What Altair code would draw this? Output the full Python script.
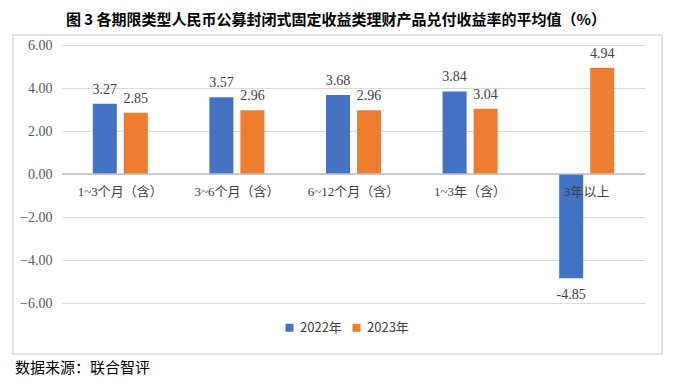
import altair as alt
import pandas as pd

categories = ["1~3个月（含）", "3~6个月（含）", "6~12个月（含）", "1~3年（含）", "3年以上"]
series = ["2022年", "2023年"]
values_2022 = [3.27, 3.57, 3.68, 3.84, -4.85]
values_2023 = [2.85, 2.96, 2.96, 3.04, 4.94]
y_ticks = [-6, -4, -2, 0, 2, 4, 6]
colors = ["#4472C4", "#ED7D31"]
title_text = "图 3 各期限类型人民币公募封闭式固定收益类理财产品兑付收益率的平均值（%）"
source_text = "数据来源：联合智评"

rows = []
for c, a, b in zip(categories, values_2022, values_2023):
    rows.append({"cat": c, "year": series[0], "v": a, "label": f"{a:.2f}"})
    rows.append({"cat": c, "year": series[1], "v": b, "label": f"{b:.2f}"})
df = pd.DataFrame(rows)
cat_df = pd.DataFrame({"cat": categories, "zero": [0] * len(categories)})
one = pd.DataFrame({"a": [0]})

W, H = 583, 258
serif = "Times New Roman, Liberation Serif, Noto Sans CJK SC"
cjk = "Noto Sans CJK SC"

x = alt.X("cat:N", sort=categories, axis=None,
          scale=alt.Scale(paddingInner=0.528, paddingOuter=0.264))
xo = alt.XOffset("year:N", sort=series,
                 scale=alt.Scale(paddingInner=0.226, paddingOuter=0))
y = alt.Y("v:Q", scale=alt.Scale(domain=[-6, 6], nice=False),
          axis=alt.Axis(values=y_ticks, format=".2f", grid=True, gridColor="#d9d9d9",
                        domain=False, ticks=False, labelFont=serif, labelFontSize=14,
                        labelColor="#595959", labelPadding=10, title=None))

box = alt.Chart(one).mark_rect(fillOpacity=0, stroke="#d9d9d9", strokeWidth=1.5).encode(
    x=alt.value(-49), x2=alt.value(600), y=alt.value(-10), y2=alt.value(309))

base = alt.Chart(df).encode(x=x, xOffset=xo)

bars = base.mark_bar().encode(
    y=y,
    color=alt.Color("year:N", sort=series, scale=alt.Scale(domain=series, range=colors),
                    legend=alt.Legend(orient="none", legendX=221, legendY=276,
                                      direction="horizontal", title=None,
                                      symbolType="square", symbolSize=64,
                                      symbolStrokeWidth=0, labelFont=cjk,
                                      labelFontSize=13, labelColor="#404040",
                                      padding=0, columnPadding=8)))

zero = alt.Chart(one).mark_rule(color="#bfbfbf", strokeWidth=1.5).encode(y=alt.datum(0))

pos_labels = base.transform_filter("datum.v >= 0").mark_text(
    baseline="bottom", dy=-7, font=serif, fontSize=14, color="#404040").encode(
    y=alt.Y("v:Q"), text="label:N")
neg_labels = base.transform_filter("datum.v < 0").mark_text(
    baseline="top", dy=10, font=serif, fontSize=14, color="#404040").encode(
    y=alt.Y("v:Q"), text="label:N")

cat_labels = alt.Chart(cat_df).mark_text(
    baseline="middle", dy=18, font=serif, fontSize=13, color="#404040").encode(
    x=alt.X("cat:N", sort=categories), y=alt.Y("zero:Q"), text="cat:N")

title = alt.Chart(one).mark_text(text=title_text, font=cjk, fontSize=15, fontWeight="bold",
                                 align="center", baseline="middle", color="#000000").encode(
    x=alt.value(274), y=alt.value(-25))

source = alt.Chart(one).mark_text(text=source_text, font=cjk, fontSize=15,
                                  align="left", baseline="middle", color="#000000").encode(
    x=alt.value(-47), y=alt.value(323))

chart = alt.layer(box, bars, zero, pos_labels, neg_labels, cat_labels, title, source).properties(
    width=W, height=H,
    padding={"left": 54, "top": 37, "right": 20, "bottom": 75},
    autosize=alt.AutoSizeParams(type="none"),
).configure_view(stroke=None)

chart.save("out.html", embed_options={"renderer": "svg", "actions": False})
